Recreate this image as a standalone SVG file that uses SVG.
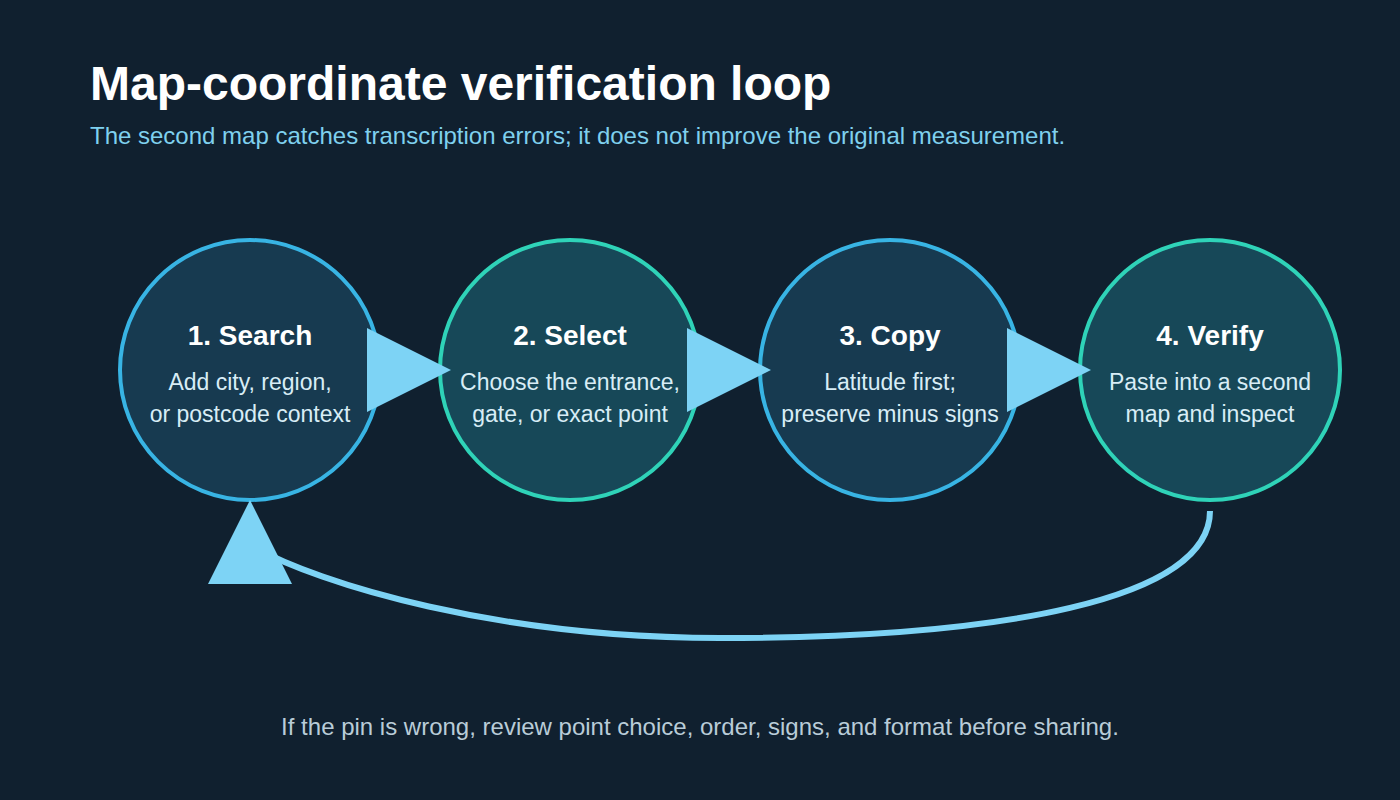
<svg xmlns="http://www.w3.org/2000/svg" width="1400" height="800" viewBox="0 0 1400 800">
<defs>
<style>
.bg{fill:#10202f}
.title{font-family:"Liberation Sans",Arial,sans-serif;font-weight:bold;font-size:48px;fill:#ffffff}
.sub{font-family:"Liberation Sans",Arial,sans-serif;font-size:24px;fill:#7fd0ee}
.foot{font-family:"Liberation Sans",Arial,sans-serif;font-size:24px;fill:#b9ccd8;text-anchor:middle}
.nt{font-family:"Liberation Sans",Arial,sans-serif;font-weight:bold;font-size:28px;fill:#ffffff;text-anchor:middle}
.nb{font-family:"Liberation Sans",Arial,sans-serif;font-size:23px;fill:#d8edf6;text-anchor:middle}
.cblue{fill:#173a50;stroke:#38b4e4;stroke-width:4}
.cteal{fill:#174858;stroke:#2fd3b8;stroke-width:4}
.conn{fill:none;stroke:#7dd3f5;stroke-width:6}
</style>
<marker id="ah" markerUnits="userSpaceOnUse" markerWidth="84" markerHeight="84" refX="44" refY="42" orient="auto" viewBox="0 0 84 84">
<path d="M0,0 L84,42 L0,84 Z" fill="#7dd3f5"/>
</marker>
<marker id="ahUp" markerUnits="userSpaceOnUse" markerWidth="84" markerHeight="84" refX="39" refY="42" orient="-90" viewBox="0 0 84 84">
<path d="M0,0 L84,42 L0,84 Z" fill="#7dd3f5"/>
</marker>
</defs>
<rect class="bg" x="0" y="0" width="1400" height="800"/>
<text class="title" x="90" y="100">Map-coordinate verification loop</text>
<text class="sub" x="90" y="144">The second map catches transcription errors; it does not improve the original measurement.</text>

<g id="node-search">
<circle class="cblue" cx="250" cy="370" r="130"/>
<text class="nt" x="250" y="345">1. Search</text>
<text class="nb" x="250" y="390">Add city, region,</text>
<text class="nb" x="250" y="422">or postcode context</text>
</g>
<g id="node-select">
<circle class="cteal" cx="570" cy="370" r="130"/>
<text class="nt" x="570" y="345">2. Select</text>
<text class="nb" x="570" y="390">Choose the entrance,</text>
<text class="nb" x="570" y="422">gate, or exact point</text>
</g>
<g id="node-copy">
<circle class="cblue" cx="890" cy="370" r="130"/>
<text class="nt" x="890" y="345">3. Copy</text>
<text class="nb" x="890" y="390">Latitude first;</text>
<text class="nb" x="890" y="422">preserve minus signs</text>
</g>
<g id="node-verify">
<circle class="cteal" cx="1210" cy="370" r="130"/>
<text class="nt" x="1210" y="345">4. Verify</text>
<text class="nb" x="1210" y="390">Paste into a second</text>
<text class="nb" x="1210" y="422">map and inspect</text>
</g>

<g id="connectors">
<line class="conn" x1="385" y1="370" x2="411" y2="370" marker-end="url(#ah)"/>
<line class="conn" x1="705" y1="370" x2="731" y2="370" marker-end="url(#ah)"/>
<line class="conn" x1="1025" y1="370" x2="1051" y2="370" marker-end="url(#ah)"/>
<path class="conn" d="M1210,511 C1210,600 1000,638 720,638 C500,638 320,585 250,545" marker-end="url(#ahUp)"/>
</g>

<text class="foot" x="700" y="735">If the pin is wrong, review point choice, order, signs, and format before sharing.</text>
</svg>
